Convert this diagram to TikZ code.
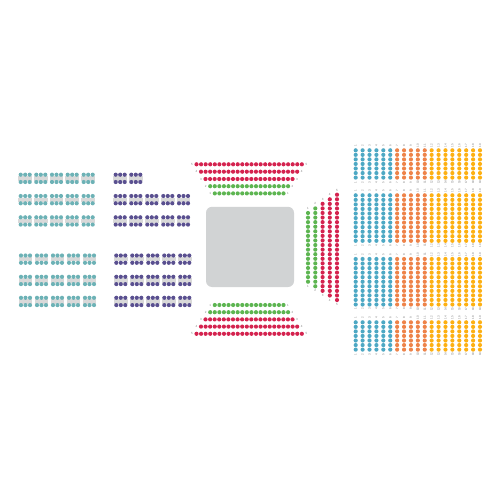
\documentclass[tikz,border=0pt]{standalone}
\usepackage{fontspec}
\setmainfont{Liberation Sans}
\definecolor{seatred}{HTML}{D4234F}
\definecolor{seatgreen}{HTML}{5DB551}
\definecolor{seatteal}{HTML}{6DB2B6}
\definecolor{seatpurple}{HTML}{5A5090}
\definecolor{seatblue}{HTML}{4DA8C4}
\definecolor{seatorange}{HTML}{EE8349}
\definecolor{seatyellow}{HTML}{FDB012}
\definecolor{tablegray}{HTML}{D9D9D9}
\definecolor{stagegray}{HTML}{D1D3D4}
\tikzset{
  seatlabel/.style={text=black!50,font=\fontsize{3}{3}\selectfont,inner sep=0pt},
  stagebox/.style={fill=stagegray,draw=none,rounded corners=6pt}
}
\newcommand{\seatsize}{2.08pt}
% table: colour, x of first seat, y of first row
\newcommand{\seattable}[3]{%
  \fill[tablegray] (#2-2.4,#3+1.5) rectangle (#2+11.4,#3+5.9);
  \foreach \tdx in {0,4.5,9}{\foreach \tdy in {0,7.3}{\fill[#1] (#2+\tdx,#3+\tdy) circle[radius=\seatsize];}}
}
% horizontal row: colour, first x, y, seats, label
\newcommand{\seatrow}[5]{%
  \foreach \sk in {1,...,#4}{\fill[#1] ({#2+(\sk-1)*4.58},#3) circle[radius=\seatsize];}
  \node[seatlabel] at (#2-4.5,#3) {#5};
  \node[seatlabel] at ({#2+(#4-1)*4.58+4.5},#3) {#5};
}
% vertical column: colour, x, first y, seats, label
\newcommand{\seatcol}[5]{%
  \foreach \sk in {1,...,#4}{\fill[#1] (#2,{#3+(\sk-1)*4.58}) circle[radius=\seatsize];}
  \node[seatlabel] at (#2,#3-4.6) {#5};
  \node[seatlabel] at (#2,{#3+(#4-1)*4.58+4.6}) {#5};
}
% block of 19 columns: first y, rows
\newcommand{\seatblock}[2]{%
  \foreach \cn in {1,...,19}{%
    \pgfmathsetmacro{\cx}{355.7+(\cn-1)*6.905}
    \ifnum\cn<7 \def\cc{seatblue}\else\ifnum\cn<12 \def\cc{seatorange}\else\def\cc{seatyellow}\fi\fi
    \foreach \sk in {1,...,#2}{\fill[\cc] (\cx,{#1+(\sk-1)*4.55}) circle[radius=\seatsize];}
    \node[seatlabel,rotate=90] at (\cx,#1-4.6) {\cn};
    \node[seatlabel,rotate=90] at (\cx,{#1+(#2-1)*4.55+4.6}) {\cn};
  }
}
\begin{document}
\begin{tikzpicture}[x=1pt,y=-1pt]
\useasboundingbox (0,0) rectangle (500,500);
\fill[white] (0,0) rectangle (500,500);
% left tables
\foreach \ty in {174.7,196,217.3}{\foreach \tx in {20.7,36.3,52,67.7,83.7}{\seattable{seatteal}{\tx}{\ty}}}
\foreach \ty in {255.5,276.8,297.8}{\foreach \tx in {21,37,53,69,85}{\seattable{seatteal}{\tx}{\ty}}}
% purple tables
\foreach \tx in {115.7,131.3}{\seattable{seatpurple}{\tx}{174.7}}
\foreach \ty in {196,217.3}{\foreach \tx in {115.7,131.3,147.3,163.3,179}{\seattable{seatpurple}{\tx}{\ty}}}
\foreach \ty in {255.5,276.8,297.8}{\foreach \tx in {116.3,132.3,148.3,164.3,180.3}{\seattable{seatpurple}{\tx}{\ty}}}
% stage
\path[stagebox] (206,206.8) rectangle (294,287);
% top rows
\seatrow{seatred}{196.5}{164.3}{24}{5}
\seatrow{seatred}{201}{171.7}{22}{4}
\seatrow{seatred}{205.5}{179}{20}{3}
\seatrow{seatgreen}{210.2}{186.2}{18}{2}
\seatrow{seatgreen}{214.8}{193.4}{16}{1}
% bottom rows
\seatrow{seatgreen}{214.8}{305}{16}{1}
\seatrow{seatgreen}{210.2}{312.2}{18}{2}
\seatrow{seatred}{205.5}{319.4}{20}{3}
\seatrow{seatred}{201}{326.6}{22}{4}
\seatrow{seatred}{196.5}{333.8}{24}{5}
% side columns
\seatcol{seatgreen}{308}{213}{16}{1}
\seatcol{seatgreen}{315.3}{208.4}{18}{2}
\seatcol{seatred}{322.6}{203.8}{20}{3}
\seatcol{seatred}{329.8}{199.3}{22}{4}
\seatcol{seatred}{337}{194.7}{24}{5}
% right blocks
\seatblock{150.3}{7}
\seatblock{195.3}{11}
\seatblock{259}{11}
\seatblock{322.3}{7}
\end{tikzpicture}
\end{document}
